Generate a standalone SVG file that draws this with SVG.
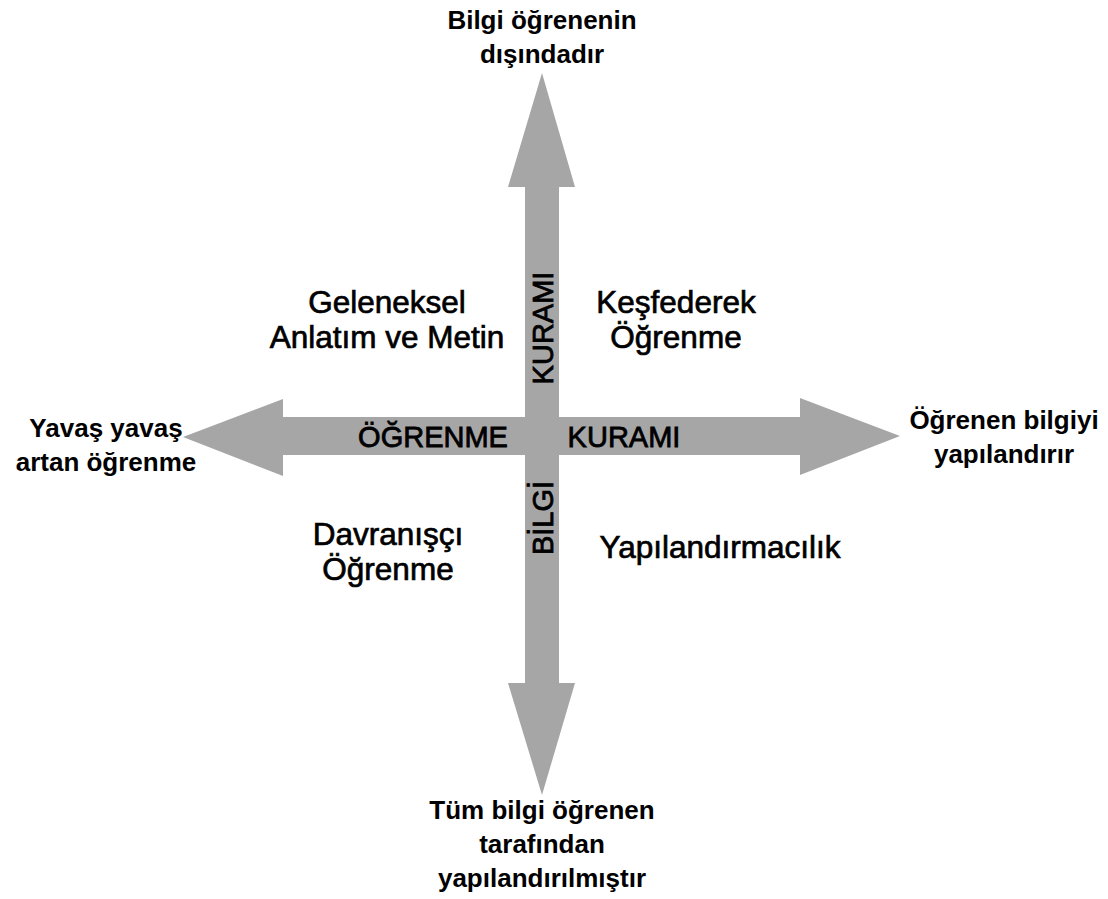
<svg xmlns="http://www.w3.org/2000/svg" width="1108" height="899" viewBox="0 0 1108 899">
<style>
.lbl{font-family:"Liberation Sans",Arial,sans-serif;font-size:31.5px;fill:#000;stroke:#000;stroke-width:0.7;text-anchor:middle}
.out{font-family:"Liberation Sans",Arial,sans-serif;font-size:26px;font-weight:bold;fill:#000;text-anchor:middle}
.ax{font-family:"Liberation Sans",Arial,sans-serif;font-size:29px;fill:#000;stroke:#000;stroke-width:0.8;text-anchor:middle}
</style>
<rect width="1108" height="899" fill="#fff"/>
<g id="connectors">
<polygon fill="#a6a6a6" points="542,73 575,187 559,187 559,417 800,417 800,398 900,436 800,475 800,455 559,455 559,683 575,683 542,795 508,683 525,683 525,455 283,455 283,476 183,437 283,399 283,417 525,417 525,187 508,187"/>
</g>
<g id="axis-labels">
<text class="ax" x="433" y="447">ÖĞRENME</text>
<text class="ax" x="624" y="447">KURAMI</text>
<text class="ax" transform="translate(553,328) rotate(-90)" x="0" y="0">KURAMI</text>
<text class="ax" transform="translate(553,518) rotate(-90)" x="0" y="0">BİLGİ</text>
</g>
<g id="node-top"><text class="out" x="542" y="29">Bilgi öğrenenin</text><text class="out" x="542" y="63">dışındadır</text></g>
<g id="node-bottom"><text class="out" x="542" y="819">Tüm bilgi öğrenen</text><text class="out" x="542" y="853">tarafından</text><text class="out" x="542" y="887">yapılandırılmıştır</text></g>
<g id="node-left"><text class="out" x="106" y="437">Yavaş yavaş</text><text class="out" x="106" y="471">artan öğrenme</text></g>
<g id="node-right"><text class="out" x="1004" y="429">Öğrenen bilgiyi</text><text class="out" x="1004" y="463">yapılandırır</text></g>
<g id="node-tl"><text class="lbl" x="387" y="313">Geleneksel</text><text class="lbl" x="387" y="348">Anlatım ve Metin</text></g>
<g id="node-tr"><text class="lbl" x="676" y="313">Keşfederek</text><text class="lbl" x="676" y="348">Öğrenme</text></g>
<g id="node-bl"><text class="lbl" x="388" y="545">Davranışçı</text><text class="lbl" x="388" y="580">Öğrenme</text></g>
<g id="node-br"><text class="lbl" x="720" y="558">Yapılandırmacılık</text></g>
</svg>
